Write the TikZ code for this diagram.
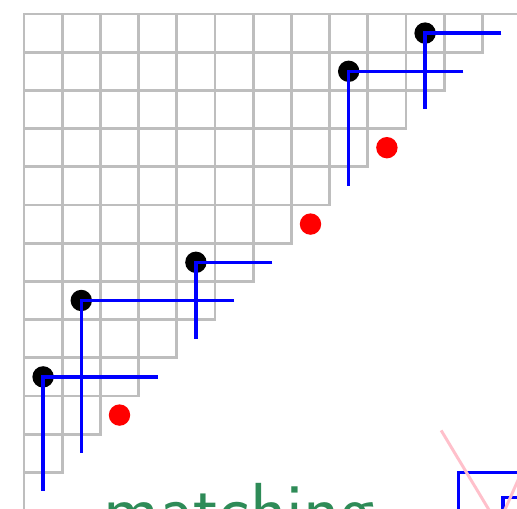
\documentclass[tikz,border=0pt]{standalone}
\usetikzlibrary{calc}
\definecolor{gridgray}{RGB}{190,190,190}
\definecolor{hookblue}{RGB}{0,0,255}
\definecolor{wordgreen}{RGB}{46,139,87}
\definecolor{linkpink}{RGB}{255,192,203}
\tikzset{
  cellline/.style = {draw=gridgray, line width=2.2pt, line cap=rect},
  hookline/.style = {draw=hookblue, line width=2.5pt},
  boxline/.style  = {draw=hookblue, line width=2.6pt},
  pinkline/.style = {draw=linkpink, line width=2.2pt},
  bdot/.style     = {circle, fill=black, minimum size=5.6mm, inner sep=0pt},
  rdot/.style     = {circle, fill=red, minimum size=5.6mm, inner sep=0pt},
  wordlbl/.style  = {text=wordgreen, inner sep=0pt,
                     font=\sffamily\fontsize{56}{56}\selectfont},
}

\begin{document}
\begin{tikzpicture}
    \useasboundingbox (-0.628,-12.958) rectangle (12.906,0.366);
    \clip (-0.628,-12.958) rectangle (12.906,0.366);

    % Staircase grid
    \draw[cellline] (0,-14) -- (0,0) -- (14,0);
    \foreach \i in {1,...,12} {
      \draw[cellline] (0,-\i) -- ({13-\i},-\i);
      \draw[cellline] (\i,0) -- (\i,{\i-13});
    }

    % Outer corners
    \foreach \x/\y [count=\k] in {9.5/-3.5, 7.5/-5.5, 2.5/-10.5}
      \node[rdot] (r\k) at (\x,\y) {};

    % Marked cells with their hooks
    \foreach \x/\y/\h [count=\k] in {10.5/-0.5/2, 8.5/-1.5/3, 4.5/-6.5/2, 1.5/-7.5/4, 0.5/-9.5/3} {
      \node[bdot] (b\k) at (\x,\y) {};
      \draw[hookline] ($(b\k)+(\h,0)$) -- (b\k.center) -- ($(b\k)+(0,-\h)$);
    }

    % Next panel, cut off at the edge
    \draw[boxline] (11.37,-12.0) rectangle (14,-14);
    \draw[boxline] (12.54,-12.66) rectangle (14,-14);
    \draw[pinkline] (10.92,-10.90) -- (12.78,-13.99);
    \draw[pinkline] (13.21,-11.58) -- (12.29,-13.65);

    \node[wordlbl, anchor=base] (word) at (5.63,-13.66) {matching};
\end{tikzpicture}
\end{document}
